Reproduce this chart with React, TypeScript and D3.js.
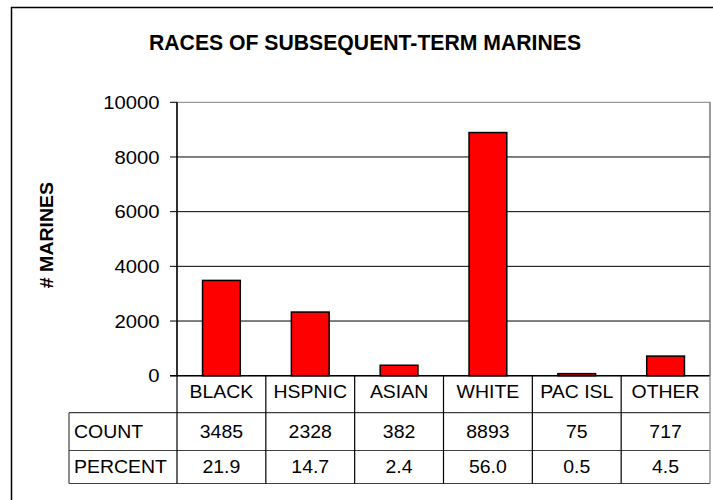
import React from "react";
import * as d3 from "d3";

const categories = ["BLACK", "HSPNIC", "ASIAN", "WHITE", "PAC ISL", "OTHER"];
const counts = [3485, 2328, 382, 8893, 75, 717];
const percents = ["21.9", "14.7", "2.4", "56.0", "0.5", "4.5"];
const countLabels = ["3485", "2328", "382", "8893", "75", "717"];
const yTicks = [0, 2000, 4000, 6000, 8000, 10000];
const rowLabels = ["COUNT", "PERCENT"];

const W = 713;
const H = 500;
const FONT = "'Liberation Sans', Arial, Helvetica, sans-serif";

type TProps = {
  x: number;
  y: number;
  size: number;
  sx?: number;
  anchor?: "start" | "middle" | "end";
  bold?: boolean;
  rotate?: number;
  children: React.ReactNode;
};

function T({ x, y, size, sx = 1, anchor = "middle", bold = false, rotate = 0, children }: TProps) {
  return (
    <g transform={`translate(${x},${y}) rotate(${rotate}) scale(${sx},1)`}>
      <text
        x={0}
        y={0}
        textAnchor={anchor}
        fontFamily={FONT}
        fontSize={size}
        fontWeight={bold ? "bold" : "normal"}
        fill="#000"
      >
        {children}
      </text>
    </g>
  );
}

export default function App() {
  const left = 177;
  const right = 710;
  const top = 102.3;
  const bottom = 375.7;
  const x = d3.scaleBand<string>().domain(categories).range([left, right]).paddingInner(0).paddingOuter(0);
  const y = d3.scaleLinear().domain([0, 10000]).range([bottom, top]);
  const barW = x.bandwidth() * 0.425;

  const labelLeft = 69;
  const rowLines = [bottom, 412.7, 450.5, 483.5];
  const tableBottom = rowLines[3];
  const baselines = [398.3, 437.7, 472.8];
  const tSize = 18.2;
  const tSx = 1.07;

  return (
    <svg width={W} height={H} style={{ position: "absolute", left: 0, top: 0, background: "#fff" }}>
      <rect x={0} y={0} width={W} height={H} fill="#fff" />
      <rect x={11.5} y={7.5} width={W + 10} height={H + 10} fill="none" stroke="#000" strokeWidth={1.5} />
      <T x={365} y={50} size={21.2} bold>
        RACES OF SUBSEQUENT-TERM MARINES
      </T>
      <T x={53.3} y={235} size={18.6} sx={1.05} bold rotate={-90}>
        # MARINES
      </T>
      <rect x={left} y={top} width={right - left} height={bottom - top} fill="none" stroke="#808080" strokeWidth={1} />
      {yTicks.filter((t) => t > 0 && t < 10000).map((t) => (
        <line key={t} x1={left} x2={right} y1={y(t)} y2={y(t)} stroke="#000" strokeWidth={1} />
      ))}
      {yTicks.map((t) => (
        <g key={"t" + t}>
          <line x1={170} x2={left} y1={y(t)} y2={y(t)} stroke="#000" strokeWidth={1} />
          <T x={159.5} y={y(t) + 6.6} size={18.6} sx={1.09} anchor="end">
            {String(t)}
          </T>
        </g>
      ))}
      {categories.map((c, i) => {
        const cx = (x(c) as number) + x.bandwidth() / 2;
        return (
          <rect
            key={c}
            x={cx - barW / 2}
            y={y(counts[i])}
            width={barW}
            height={y(0) - y(counts[i])}
            fill="#ff0000"
            stroke="#000"
            strokeWidth={1.5}
          />
        );
      })}
      <line x1={left} x2={left} y1={top} y2={bottom} stroke="#000" strokeWidth={1.5} />
      <line x1={170} x2={right} y1={bottom} y2={bottom} stroke="#000" strokeWidth={1.5} />
      {rowLines.slice(1).map((ry, i) => (
        <line key={"r" + i} x1={labelLeft} x2={right} y1={ry} y2={ry} stroke="#404040" strokeWidth={1.2} />
      ))}
      <line x1={labelLeft} x2={labelLeft} y1={rowLines[1]} y2={tableBottom} stroke="#404040" strokeWidth={1.2} />
      <line x1={left} x2={left} y1={bottom} y2={tableBottom} stroke="#000" strokeWidth={1.2} />
      {categories.map((c, i) => (
        <line
          key={"v" + c}
          x1={(x(c) as number) + x.bandwidth()}
          x2={(x(c) as number) + x.bandwidth()}
          y1={i === categories.length - 1 ? top : bottom}
          y2={tableBottom}
          stroke={i === categories.length - 1 ? "#808080" : "#000"}
          strokeWidth={1.2}
        />
      ))}
      {categories.map((c, i) => {
        const cx = (x(c) as number) + x.bandwidth() / 2;
        return (
          <g key={"txt" + c}>
            <T x={cx} y={baselines[0]} size={tSize} sx={tSx}>{c}</T>
            <T x={cx} y={baselines[1]} size={tSize} sx={tSx}>{countLabels[i]}</T>
            <T x={cx} y={baselines[2]} size={tSize} sx={tSx}>{percents[i]}</T>
          </g>
        );
      })}
      {rowLabels.map((r, i) => (
        <T key={r} x={labelLeft + 5} y={baselines[i + 1]} size={tSize} sx={tSx} anchor="start">
          {r}
        </T>
      ))}
    </svg>
  );
}
